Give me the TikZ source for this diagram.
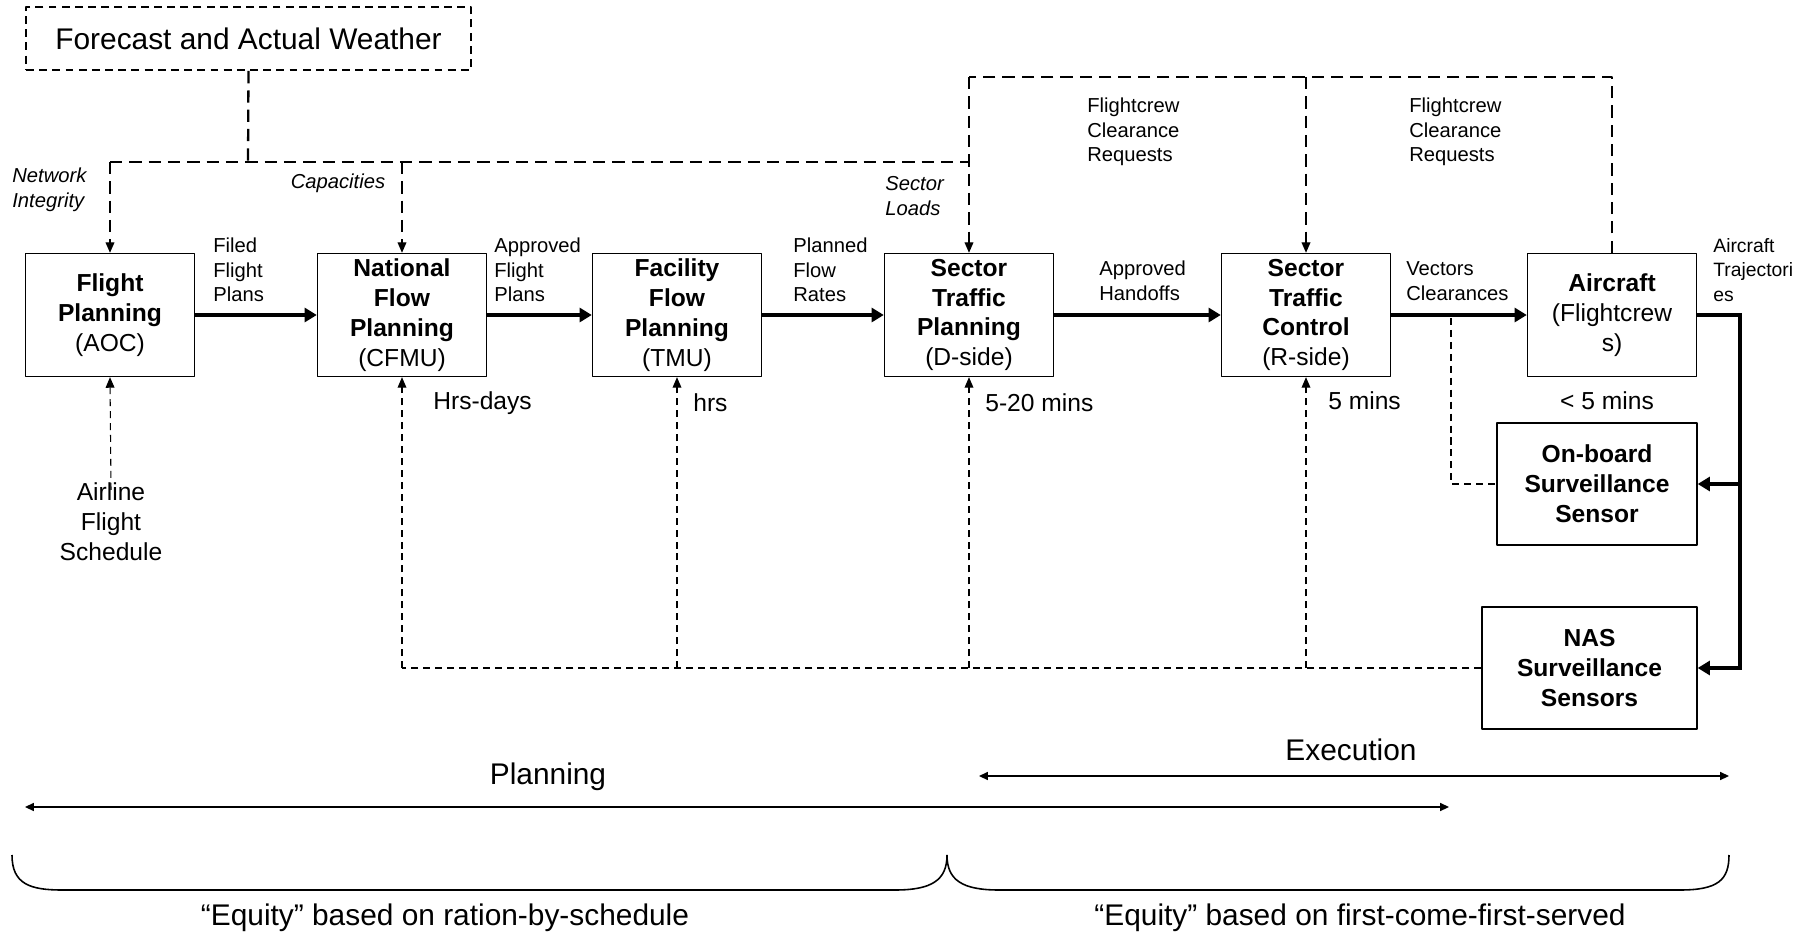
\documentclass[tikz,border=0pt]{standalone}
\usepackage{fontspec}
\setmainfont{Liberation Sans}
\usetikzlibrary{arrows.meta}
\begin{document}
\begin{tikzpicture}[x=0.02cm, y=-0.02cm, line join=round,
	box/.style={draw, line width=0.8pt, minimum width=3.38cm, minimum height=2.46cm, inner sep=0pt, align=center, font=\fontsize{14}{17}\selectfont},
	wbox/.style={draw, line width=1.1pt, dash pattern=on 4.5pt off 3pt, minimum width=8.9cm, minimum height=1.26cm, font=\fontsize{17}{20}\selectfont},
	lbl/.style={inner sep=0pt, align=left, anchor=west, font=\fontsize{11.5}{14}\selectfont},
	ilbl/.style={lbl, font=\fontsize{11.5}{14}\selectfont\itshape},
	tlbl/.style={inner sep=0pt, anchor=west, font=\fontsize{14}{17}\selectfont},
	big/.style={inner sep=0pt, font=\fontsize{17}{20}\selectfont},
	thk/.style={line width=2.3pt, -{Triangle[length=7pt,width=8pt]}},
	dline/.style={line width=0.8pt, dash pattern=on 7pt off 4pt},
	darrow/.style={dline, -{Triangle[length=6pt,width=5pt]}},
	fline/.style={line width=0.6pt, dash pattern=on 4pt off 2.8pt},
	farrow/.style={fline, -{Triangle[length=6pt,width=5pt]}},
	span/.style={line width=0.9pt, {Triangle[length=5pt,width=4.5pt]}-{Triangle[length=5pt,width=4.5pt]}}]
	\useasboundingbox (0,0) rectangle (1810,933);
	% boxes
	\node[wbox] (wx) at (248.5,38.5) {Forecast and Actual Weather};
	\node[box] (fp) at (110,315) {\textbf{Flight}\\\textbf{Planning}\\(AOC)};
	\node[box] (nfp) at (402,315) {\textbf{National}\\\textbf{Flow}\\\textbf{Planning}\\(CFMU)};
	\node[box] (ffp) at (677,315) {\textbf{Facility}\\\textbf{Flow}\\\textbf{Planning}\\(TMU)};
	\node[box] (stp) at (969,315) {\textbf{Sector}\\\textbf{Traffic}\\\textbf{Planning}\\(D-side)};
	\node[box] (stc) at (1306,315) {\textbf{Sector}\\\textbf{Traffic}\\\textbf{Control}\\(R-side)};
	\node[box] (ac) at (1612,315) {\textbf{Aircraft}\\(Flightcrew\\s)};
	\node[box, minimum width=4cm, minimum height=2.44cm] (obs) at (1597,484) {\textbf{On-board}\\\textbf{Surveillance}\\\textbf{Sensor}};
	\node[box, minimum width=4.3cm, minimum height=2.44cm] (nas) at (1589.5,668) {\textbf{NAS}\\\textbf{Surveillance}\\\textbf{Sensors}};
	\node[tlbl, anchor=center, align=center] (sched) at (111,522) {Airline\\Flight\\Schedule};
	% main flow
	\draw[thk] (fp.east) -- (nfp.west);
	\draw[thk] (nfp.east) -- (ffp.west);
	\draw[thk] (ffp.east) -- (stp.west);
	\draw[thk] (stp.east) -- (stc.west);
	\draw[thk] (stc.east) -- (ac.west);
	\coordinate (tj) at (1740,315);
	\draw[thk, line join=miter] (ac.east) -- (tj) -- (tj |- nas.east) -- (nas.east);
	\draw[thk] (tj |- obs.east) -- (obs.east);
	% weather and requests
	\coordinate (wj) at (248,162);
	\coordinate (top) at (969,77);
	\draw[dline, line width=1.3pt] (wx.south) -- (wj);
	\draw[dline] (fp.north |- wj) -- (stp.north |- wj);
	\draw[darrow] (fp.north |- wj) -- (fp.north);
	\draw[darrow] (nfp.north |- wj) -- (nfp.north);
	\draw[dline] (ac.north) -- (ac.north |- top) -- (top);
	\draw[darrow] (top) -- (stp.north);
	\draw[darrow] (stc.north |- top) -- (stc.north);
	% surveillance feedback
	\coordinate (vj) at (1451,318);
	\draw[fline] (vj) -- (vj |- obs.west) -- (obs.west);
	\draw[fline] (nas.west) -- (nfp.south |- nas.west);
	\foreach \b in {nfp,ffp,stp,stc}
		\draw[farrow] (\b.south |- nas.west) -- (\b.south);
	\draw[farrow] ([yshift=-4pt]sched.north) -- (fp.south);
	% labels
	\node[ilbl] (ni) at (12,190) {Network\\Integrity};
	\node[ilbl, anchor=center] (cap) at (338,183) {Capacities};
	\node[ilbl] (sl) at (885,196) {Sector\\Loads};
	\node[lbl] (filed) at (213,270) {Filed\\Flight\\Plans};
	\node[lbl] (apfp) at (494,270) {Approved\\Flight\\Plans};
	\node[lbl] (pfr) at (793,270) {Planned\\Flow\\Rates};
	\node[lbl] (aho) at (1099,281) {Approved\\Handoffs};
	\node[lbl] (vec) at (1406,281) {Vectors\\Clearances};
	\node[lbl, font=\fontsize{11}{14}\selectfont] (traj) at (1713,270) {Aircraft\\Trajectori\\es};
	\node[lbl] (fcr1) at (1087,132) {Flightcrew\\Clearance\\Requests};
	\node[lbl] (fcr2) at (1409,132) {Flightcrew\\Clearance\\Requests};
	\node[tlbl] (t1) at (433,403) {Hrs-days};
	\node[tlbl] (t2) at (693,403) {hrs};
	\node[tlbl] (t3) at (985,403) {5-20 mins};
	\node[tlbl] (t4) at (1328,401) {5 mins};
	\node[tlbl, anchor=center] (t5) at (1607,401) {< 5 mins};
	% phases
	\node[big] (plan) at (548,777) {Planning};
	\node[big] (exec) at (1351,750) {Execution};
	\coordinate (pl) at (25,807); \coordinate (pr) at (1449,807);
	\coordinate (el) at (979,776); \coordinate (er) at (1729,776);
	\draw[span] (pl) -- (pr);
	\draw[span] (el) -- (er);
	\draw[line width=0.9pt] (12,855) .. controls (12,884) and (30,890) .. (62,890) -- (895,890) .. controls (932,890) and (947,880) .. (947,855);
	\draw[line width=0.9pt] (947,855) .. controls (947,880) and (962,890) .. (999,890) -- (1680,890) .. controls (1718,890) and (1729,880) .. (1729,855);
	\node[big] (eq1) at (445,918) {“Equity” based on ration-by-schedule};
	\node[big] (eq2) at (1360,918) {“Equity” based on first-come-first-served};
\end{tikzpicture}
\end{document}
